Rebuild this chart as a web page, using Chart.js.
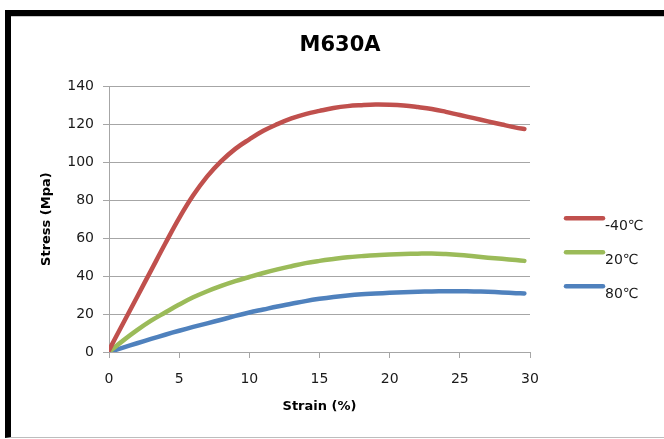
<!DOCTYPE html>
<html>
<head>
<meta charset="utf-8">
<script src="https://cdn.jsdelivr.net/npm/chart.js@4/dist/chart.umd.min.js"></script>
<style>
    html, body { margin: 0; padding: 0; background: #fff; overflow: hidden; }
    .frame {
        position: absolute;
        left: 5px;
        top: 10px;
        width: 700px;
        height: 421px;
        border-left: 6px solid #000;
        border-top: 6px solid #000;
        border-bottom: 1px solid #bdbdbd;
    }
    .inner {
        position: absolute;
        left: 0;
        top: 0;
        width: 658px;
        height: 421px;
        border-top: 1px solid #c8c8c8;
    }
    #stress-chart { display: block; }
</style>
</head>
<body>
<div class="frame">
    <div class="inner">
        <canvas id="stress-chart" width="658" height="420"></canvas>
    </div>
</div>
<script>
// --- Dados ---
const strainPoints = [0, 1, 2, 3, 4, 5, 6, 7, 8, 9, 10, 11, 12, 13, 14, 15, 16, 17, 18, 19, 20, 21, 22, 23, 24, 25, 26, 27, 28, 29, 29.6];
const stressMinus40 = [1, 15, 29, 43, 57, 70.5, 82.5, 92.5, 100.5, 107, 112, 116.5, 120, 123, 125.3, 127, 128.5, 129.5, 130, 130.3, 130.2, 129.8, 129, 128, 126.5, 124.8, 123.2, 121.5, 119.8, 118.2, 117.5];
const stress20 = [0, 6, 11.5, 16.5, 20.8, 25, 28.8, 32, 34.8, 37.3, 39.5, 41.6, 43.5, 45.2, 46.8, 48, 49, 49.9, 50.5, 51, 51.3, 51.6, 51.8, 51.9, 51.6, 51.1, 50.4, 49.7, 49.1, 48.4, 48];
const stress80 = [0, 2.3, 4.6, 6.9, 9.1, 11.2, 13.2, 15.1, 17, 19, 20.8, 22.4, 24, 25.4, 26.8, 28, 29, 29.8, 30.4, 30.8, 31.2, 31.5, 31.7, 31.9, 32, 32, 31.9, 31.7, 31.4, 31, 30.8];
const seriesLabels = ['-40℃', '20℃', '80℃'];
const seriesColors = ['#C0504D', '#9BBB59', '#4F81BD'];
const xTickLabels = [0, 5, 10, 15, 20, 25, 30];
const yTickLabels = [0, 20, 40, 60, 80, 100, 120, 140];

const chartCanvas = document.getElementById('stress-chart');
const fontFamily = '"DejaVu Sans", sans-serif';
const gridColor = '#a6a6a6';

function toPoints(values) {
    return values.map((v, i) => ({ x: strainPoints[i], y: v }));
}

// Legenda desenhada à direita, no estilo do Excel (texto um pouco abaixo da linha)
const sideLegend = {
    id: 'sideLegend',
    afterDraw(chart) {
        const { ctx, chartArea } = chart;
        const x0 = chartArea.right + 36;
        ctx.save();
        ctx.font = '14px ' + fontFamily;
        ctx.textBaseline = 'middle';
        ctx.textAlign = 'left';
        chart.data.datasets.forEach((ds, i) => {
            const y = chartArea.top + 132 + i * 34;
            ctx.strokeStyle = ds.borderColor;
            ctx.lineWidth = 4.5;
            ctx.lineCap = 'round';
            ctx.beginPath();
            ctx.moveTo(x0, y);
            ctx.lineTo(x0 + 37, y);
            ctx.stroke();
            ctx.fillStyle = '#1a1a1a';
            ctx.fillText(ds.label, x0 + 39, y + 8);
        });
        ctx.restore();
    }
};

const datasets = [stressMinus40, stress20, stress80].map((values, i) => ({
    label: seriesLabels[i],
    data: toPoints(values),
    borderColor: seriesColors[i],
    backgroundColor: seriesColors[i],
    borderWidth: 4.5,
    pointRadius: 0,
    showLine: true,
    tension: 0.4,
    borderCapStyle: 'round'
}));

new Chart(chartCanvas, {
    type: 'scatter',
    data: { datasets: datasets },
    plugins: [sideLegend],
    options: {
        responsive: false,
        animation: false,
        layout: { padding: 0 },
        plugins: {
            legend: { display: false },
            tooltip: { enabled: false },
            title: {
                display: true,
                text: 'M630A',
                color: '#000',
                font: { family: fontFamily, size: 21, weight: 'bold', lineHeight: 1.2 },
                padding: { top: 16, bottom: 28 }
            }
        },
        scales: {
            x: {
                type: 'linear',
                min: 0,
                max: 30,
                afterBuildTicks(scale) {
                    scale.ticks = xTickLabels.map(v => ({ value: v }));
                },
                afterFit(scale) { scale.height = 85; },
                ticks: {
                    color: '#1a1a1a',
                    font: { family: fontFamily, size: 14 },
                    padding: 13,
                    maxRotation: 0
                },
                grid: {
                    drawOnChartArea: false,
                    drawTicks: true,
                    tickLength: 6,
                    color: gridColor
                },
                border: { color: gridColor, width: 1 },
                title: {
                    display: true,
                    text: 'Strain (%)',
                    color: '#000',
                    font: { family: fontFamily, size: 13, weight: 'bold', lineHeight: 1.2 },
                    padding: { top: 0, bottom: 23 }
                }
            },
            y: {
                type: 'linear',
                min: 0,
                max: 140,
                afterBuildTicks(scale) {
                    scale.ticks = yTickLabels.map(v => ({ value: v }));
                },
                afterFit(scale) { scale.width = 98; },
                ticks: {
                    color: '#1a1a1a',
                    font: { family: fontFamily, size: 14 },
                    padding: 9
                },
                grid: {
                    color: gridColor,
                    tickLength: 6
                },
                border: { color: gridColor, width: 1 },
                title: {
                    display: true,
                    text: 'Stress (Mpa)',
                    color: '#000',
                    font: { family: fontFamily, size: 13, weight: 'bold', lineHeight: 1.2 },
                    padding: { top: 28, bottom: 0 }
                }
            },
            // eixo vazio à direita: reserva o espaço da legenda sem deslocar o título
            legendSpace: {
                type: 'linear',
                position: 'right',
                afterFit(scale) { scale.width = 139; },
                ticks: { display: false },
                grid: { display: false },
                border: { display: false },
                title: { display: false }
            }
        }
    }
});
</script>
</body>
</html>
